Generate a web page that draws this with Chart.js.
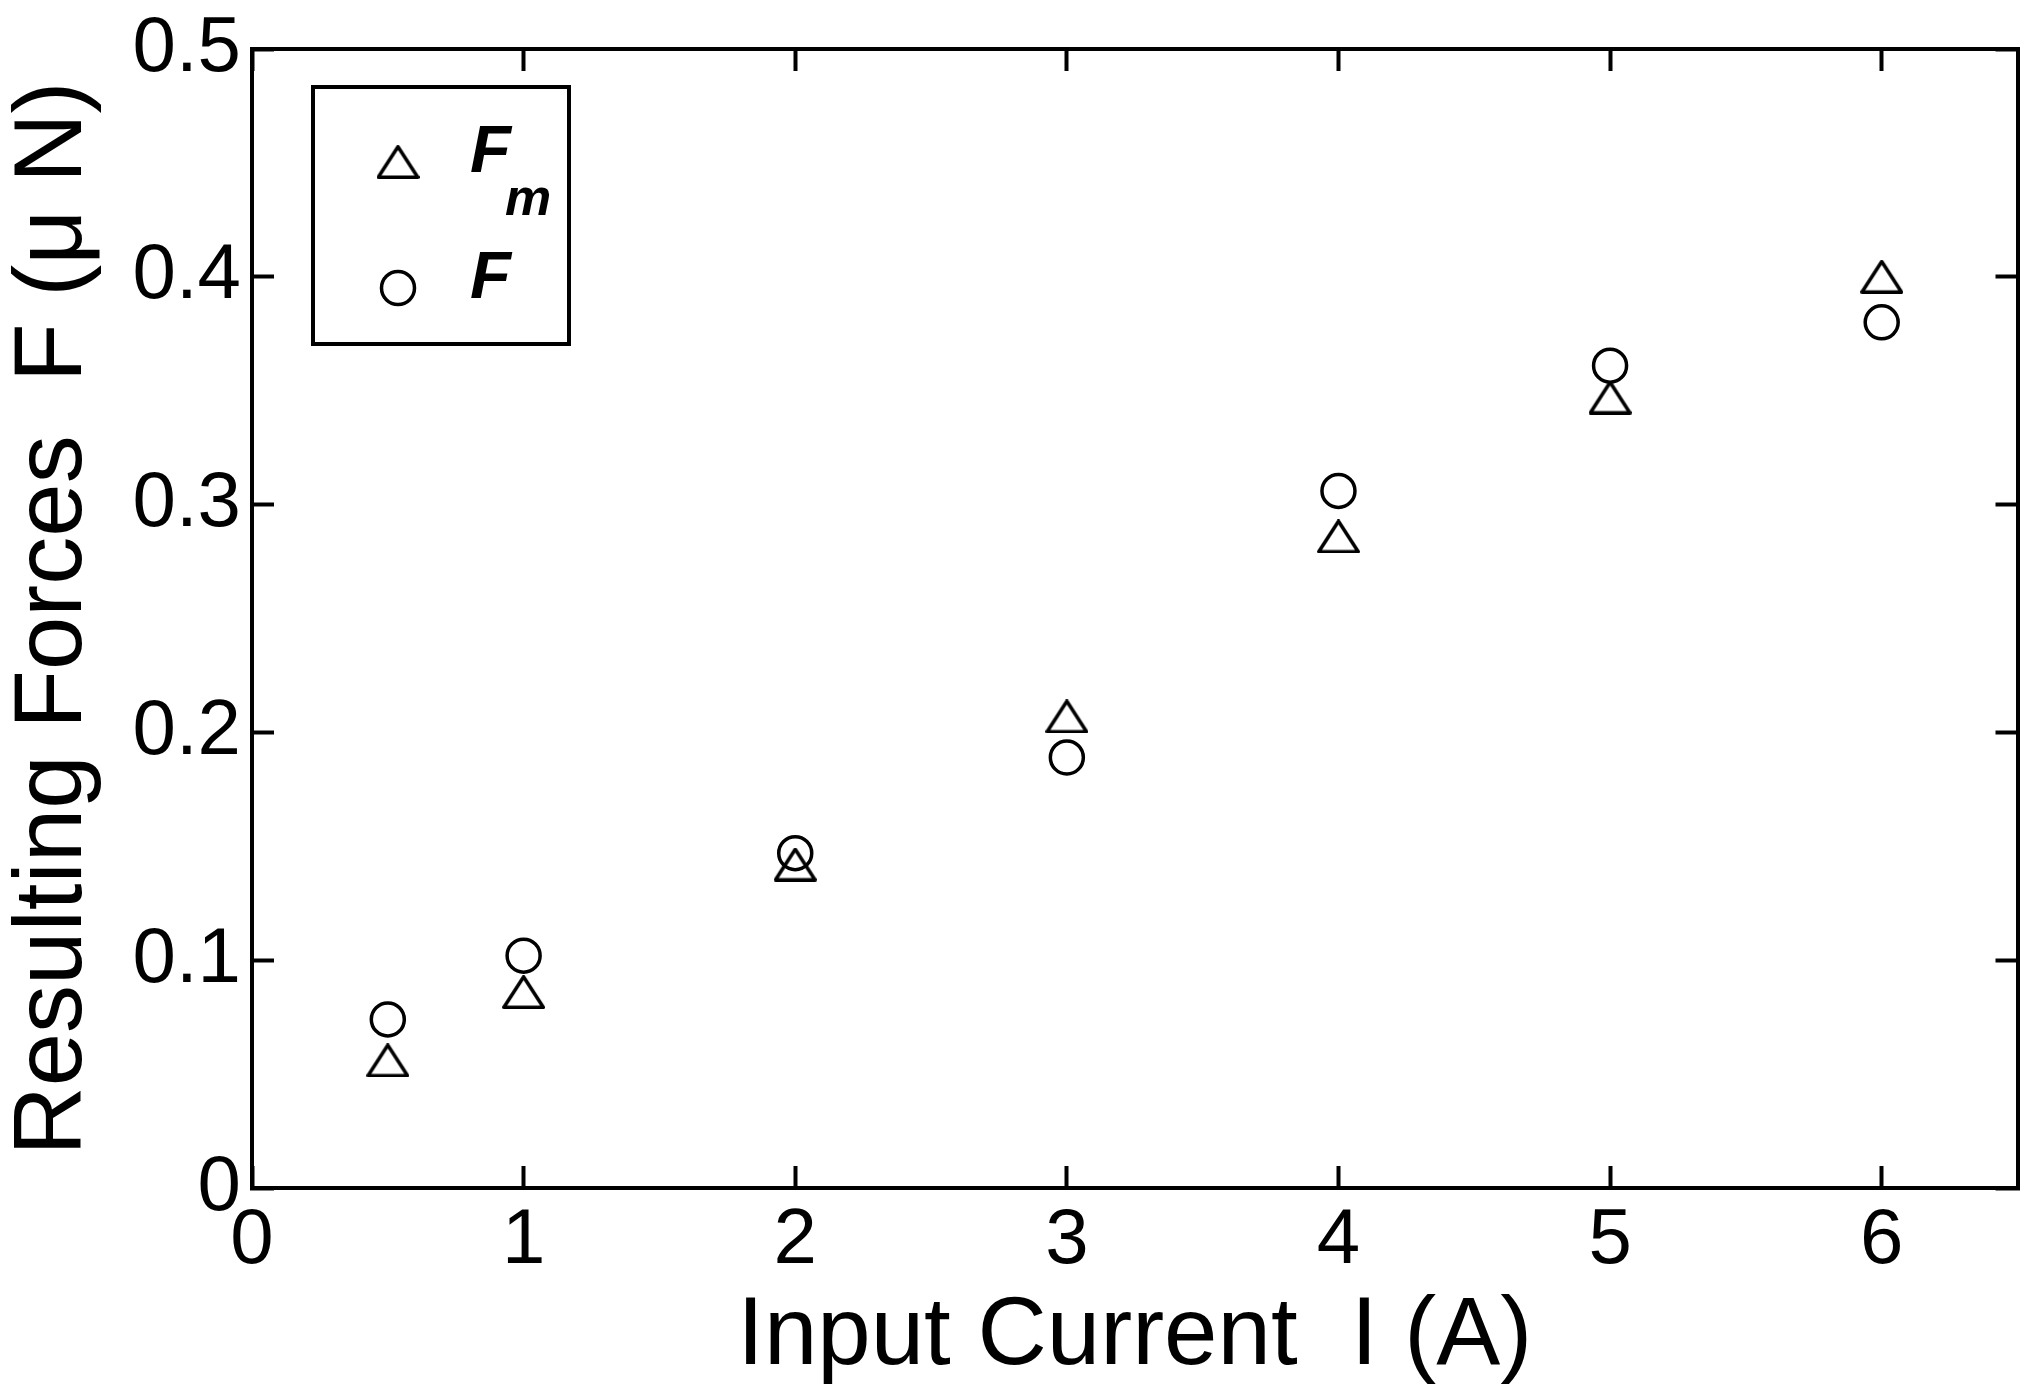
<!DOCTYPE html>
<html>
<head>
<meta charset="utf-8">
<script src="https://cdn.jsdelivr.net/npm/chart.js@4.4.0/dist/chart.umd.min.js"></script>
<style>
html,body{margin:0;padding:0;background:#fff;}
canvas{display:block;}
</style>
</head>
<body>
<canvas id="c" width="2041" height="1391"></canvas>
<script>
// ---- data ----
const currents = [0.5, 1, 2, 3, 4, 5, 6];
const forceFm  = [0.056, 0.086, 0.142, 0.207, 0.286, 0.347, 0.400];
const forceF   = [0.074, 0.102, 0.147, 0.189, 0.306, 0.361, 0.380];
const xTickLabels = ['0', '1', '2', '3', '4', '5', '6'];
const yTickLabels = ['0', '0.1', '0.2', '0.3', '0.4', '0.5'];
const seriesLabels = ['Fm', 'F'];
const legendMain = ['F', 'F'];
const legendSub  = ['m', ''];
const xTitle = 'Input Current  I (A)';
const yTitle = 'Resulting Forces  F (\u03bc N)';

const FONT = "'Liberation Sans', Arial, sans-serif";

function makeTriangle(w, h, lw) {
  const c = document.createElement('canvas');
  c.width = w; c.height = h;
  const g = c.getContext('2d');
  g.strokeStyle = '#000';
  g.lineWidth = lw;
  g.lineJoin = 'round';
  g.beginPath();
  g.moveTo(w / 2, lw / 2);
  g.lineTo(w - lw / 2, h - lw / 2);
  g.lineTo(lw / 2, h - lw / 2);
  g.closePath();
  g.stroke();
  return c;
}
const triMarker = makeTriangle(43, 34, 3.5);

const toXY = (xs, ys) => xs.map((x, i) => ({x: x, y: ys[i]}));

function fixSize(prop, val) {
  return function (scale) {
    scale[prop] = val;
    scale.paddingLeft = 0; scale.paddingRight = 0;
    scale.paddingTop = 0; scale.paddingBottom = 0;
  };
}

const tickFont = {family: FONT, size: 78, lineHeight: 1};
const titleFont = {family: FONT, size: 96, lineHeight: 1};
const inwardGrid = {display: true, drawOnChartArea: false, drawTicks: true, tickLength: -22, tickWidth: 4, tickColor: '#000'};
const blackBorder = {display: true, width: 4, color: '#000'};

const boxLegend = {
  id: 'boxLegend',
  afterDatasetsDraw(chart) {
    const ctx = chart.ctx;
    const a = chart.chartArea;
    const L = a.left + 61, T = a.top + 38, W = 256, H = 257;
    ctx.save();
    ctx.fillStyle = '#fff';
    ctx.fillRect(L, T, W, H);
    ctx.lineWidth = 4;
    ctx.strokeStyle = '#000';
    ctx.strokeRect(L, T, W, H);
    const rowY = [a.top + 113, a.top + 239];
    chart.data.datasets.forEach((ds, i) => {
      ctx.save();
      ctx.strokeStyle = '#000';
      ctx.fillStyle = 'rgba(0,0,0,0)';
      ctx.lineWidth = 3.5;
      Chart.helpers.drawPoint(ctx, {pointStyle: ds.pointStyle, radius: ds.pointRadius, borderWidth: 3.5, rotation: 0}, L + 85, rowY[i]);
      ctx.restore();
      ctx.fillStyle = '#000';
      ctx.textAlign = 'left';
      ctx.textBaseline = 'alphabetic';
      ctx.font = 'italic bold 67px ' + FONT;
      ctx.fillText(legendMain[i], L + 157, rowY[i] + 10);
      if (legendSub[i]) {
        ctx.font = 'italic bold 52px ' + FONT;
        ctx.fillText(legendSub[i], L + 192, rowY[i] + 53);
      }
    });
    ctx.restore();
  }
};

new Chart(document.getElementById('c'), {
  type: 'scatter',
  data: {
    datasets: [
      {
        label: seriesLabels[0],
        data: toXY(currents, forceFm),
        pointStyle: triMarker,
        pointRadius: 20,
        pointBorderWidth: 3.5,
        borderColor: '#000',
        backgroundColor: 'rgba(0,0,0,0)',
        showLine: false
      },
      {
        label: seriesLabels[1],
        data: toXY(currents, forceF),
        pointStyle: 'circle',
        pointRadius: 16.5,
        pointBorderWidth: 3.5,
        borderColor: '#000',
        backgroundColor: 'rgba(0,0,0,0)',
        showLine: false
      }
    ]
  },
  options: {
    responsive: false,
    animation: false,
    devicePixelRatio: 1,
    events: [],
    layout: {padding: {left: 0, right: 19, top: 49, bottom: 0}},
    plugins: {legend: {display: false}, tooltip: {enabled: false}},
    scales: {
      x: {
        type: 'linear', position: 'bottom', min: 0, max: 6.5,
        grid: inwardGrid, border: blackBorder,
        ticks: {
          stepSize: 1, includeBounds: false, padding: 36, color: '#000', font: tickFont,
          maxRotation: 0, autoSkip: false,
          callback: (v) => xTickLabels[Math.round(v)]
        },
        title: {display: true, text: xTitle, color: '#000', font: titleFont, padding: {top: 0, bottom: 5}},
        afterFit: fixSize('height', 203)
      },
      x2: {
        type: 'linear', position: 'top', min: 0, max: 6.5,
        grid: inwardGrid, border: blackBorder,
        ticks: {stepSize: 1, includeBounds: false, display: false},
        afterFit: fixSize('height', 0)
      },
      y: {
        type: 'linear', position: 'left', min: 0, max: 0.5,
        grid: inwardGrid, border: blackBorder,
        ticks: {
          stepSize: 0.1, includeBounds: false, padding: 33, color: '#000', font: tickFont,
          autoSkip: false,
          callback: (v) => yTickLabels[Math.round(v * 10)]
        },
        title: {display: true, text: yTitle, color: '#000', font: titleFont, padding: {top: 7, bottom: 0}},
        afterFit: fixSize('width', 252)
      },
      y2: {
        type: 'linear', position: 'right', min: 0, max: 0.5,
        grid: inwardGrid, border: blackBorder,
        ticks: {stepSize: 0.1, includeBounds: false, display: false},
        afterFit: fixSize('width', 0)
      }
    }
  },
  plugins: [boxLegend]
});
</script>
</body>
</html>
